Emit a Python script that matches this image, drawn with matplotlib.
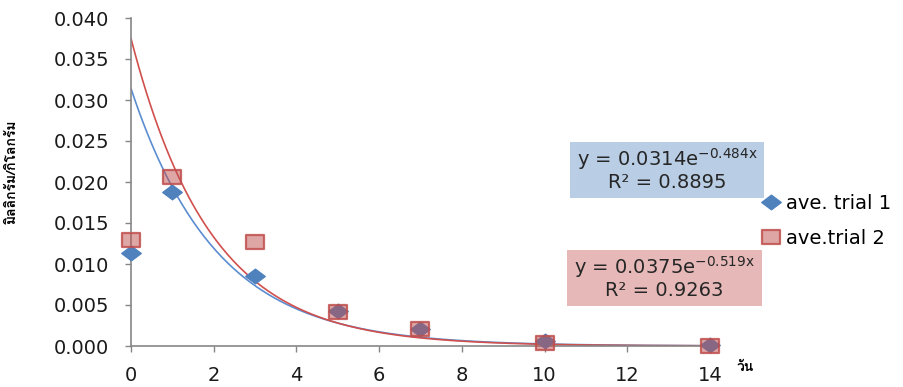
import numpy as np
import matplotlib
matplotlib.use('Agg')
import matplotlib.pyplot as plt
from matplotlib import font_manager
from matplotlib.ft2font import FT2Font
from matplotlib.path import Path
from matplotlib.patches import Rectangle

# Data
days = [0, 1, 3, 5, 7, 10, 14]
trial1 = [0.0114, 0.0188, 0.0085, 0.0043, 0.0021, 0.0006, 0.0001]
trial2 = [0.0129, 0.0206, 0.0127, 0.0042, 0.0021, 0.0004, 0.0000]
labels = ['ave. trial 1', 'ave.trial 2']

# exponential trendlines y = a*exp(b*x)
fit1 = (0.0314, -0.484, 0.8895)
fit2 = (0.0375, -0.519, 0.9263)

y_label = 'มิลลิกรัม/กิโลกรัม'
x_label = 'วัน'

# find a font that has Thai glyphs
thai_font = None
for f in font_manager.fontManager.ttflist:
    try:
        if 0x0E21 in FT2Font(f.fname).get_charmap():
            thai_font = f.name
            break
    except Exception:
        pass
thai_family = [thai_font, 'DejaVu Sans'] if thai_font else ['DejaVu Sans']

blue = '#4F81BD'
red = '#C0504D'

diamond = Path([(0, -0.75), (1, 0), (0, 0.75), (-1, 0), (0, -0.75)],
               [Path.MOVETO, Path.LINETO, Path.LINETO, Path.LINETO, Path.CLOSEPOLY])
square = Path([(-1, -0.8), (1, -0.8), (1, 0.8), (-1, 0.8), (-1, -0.8)],
              [Path.MOVETO, Path.LINETO, Path.LINETO, Path.LINETO, Path.CLOSEPOLY])

fig = plt.figure(figsize=(9.04, 3.87), dpi=100)
ax = fig.add_axes([131/904, 1-346/387, (710-131)/904, (346-18)/387])

xs = np.linspace(0, 14, 300)
ax.plot(xs, fit1[0]*np.exp(fit1[1]*xs), color='#5B8DD0', lw=1.2, zorder=2)
ax.plot(xs, fit2[0]*np.exp(fit2[1]*xs), color='#D0504D', lw=1.2, zorder=2)

ax.plot(days, trial1, ls='none', marker=diamond, ms=14, color=blue,
        mec=blue, label=labels[0], zorder=4, clip_on=False)
ax.plot(days, trial2, ls='none', marker=square, ms=12.5,
        mfc=(0.75, 0.31, 0.30, 0.5), mec=(0.75, 0.31, 0.30, 0.85), mew=1.6,
        label=labels[1], zorder=5, clip_on=False)

ax.set_xlim(0, 14)
ax.set_ylim(0, 0.04)
ax.set_xticks(range(0, 15, 2))
ax.set_yticks(np.arange(0, 0.0401, 0.005))
ax.yaxis.set_major_formatter(plt.FormatStrFormatter('%.3f'))
for s in ['top', 'right']:
    ax.spines[s].set_visible(False)
for s in ['left', 'bottom']:
    ax.spines[s].set_color('#868686')
    ax.spines[s].set_linewidth(1.2)
    ax.spines[s].set_zorder(3)
ax.tick_params(direction='out', length=4.5, width=1, color='#868686',
               labelsize=14, labelcolor='#1a1a1a')
ax.tick_params(axis='x', pad=10)
ax.tick_params(axis='y', pad=11)

# trendline equation boxes
for (a, b, r2), (x0, y0, x1, y1), fc in [
        (fit1, (570, 142, 764, 198), '#B9CDE5'),
        (fit2, (567, 250, 762, 306), '#E6B9B8')]:
    fig.patches.append(Rectangle((x0/904, 1-y1/387), (x1-x0)/904, (y1-y0)/387,
                                 transform=fig.transFigure, facecolor=fc,
                                 edgecolor='none'))
    cx = (x0+x1)/2/904
    fig.text(cx, 1-(y0+17)/387, r'y = %.4fe$^{\mathregular{%.3fx}}$' % (a, b),
             ha='center', va='center', fontsize=14, color='#262626')
    fig.text(cx, 1-(y0+41)/387, 'R² = %.4f' % r2,
             ha='center', va='center', fontsize=14, color='#262626')

ax.legend(loc='center left', bbox_to_anchor=(762/904, 1-221/387),
          bbox_transform=fig.transFigure, frameon=False, fontsize=14,
          handlelength=0.9, handletextpad=0.35, labelspacing=0.85,
          borderpad=0, borderaxespad=0)

fig.text(12/904, 1-172/387, y_label, rotation=90, ha='center', va='center',
         fontsize=10, fontweight='bold', family=thai_family)
fig.text(745/904, 1-368/387, x_label, ha='center', va='center',
         fontsize=10, fontweight='bold', family=thai_family)

fig.savefig('out.png', dpi=100)
